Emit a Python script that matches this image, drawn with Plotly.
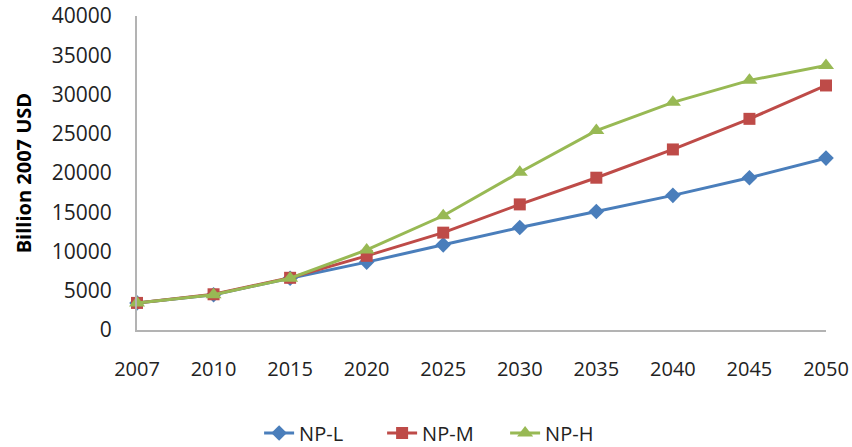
import plotly.graph_objects as go

years = ["2007", "2010", "2015", "2020", "2025", "2030", "2035", "2040", "2045", "2050"]
np_l = [3450, 4500, 6600, 8650, 10850, 13050, 15100, 17150, 19400, 21900]
np_m = [3450, 4550, 6650, 9450, 12400, 16000, 19400, 23000, 26900, 31150]
np_h = [3450, 4500, 6600, 10200, 14550, 20100, 25400, 29000, 31800, 33700]
y_ticks = [0, 5000, 10000, 15000, 20000, 25000, 30000, 35000, 40000]
y_tick_labels = [str(v) for v in y_ticks]

fig = go.Figure()
specs = [("NP-L", np_l, "#4A7EBB", "diamond", 12),
         ("NP-M", np_m, "#BE4B48", "square", 12),
         ("NP-H", np_h, "#98B954", "triangle-up", 14)]
for name, vals, col, sym, sz in specs:
    fig.add_trace(go.Scatter(x=years, y=vals, name=name, mode="lines+markers",
                             line=dict(color=col, width=3),
                             marker=dict(symbol=sym, size=sz, color=col),
                             cliponaxis=False))

font = "Open Sans, Liberation Sans, sans-serif"
fig.update_layout(
    width=852, height=447,
    margin=dict(l=137, r=26, t=16, b=117, autoexpand=False),
    plot_bgcolor="white", paper_bgcolor="white",
    showlegend=True,
    legend=dict(orientation="h", x=0.445, xanchor="center", y=-0.328, yanchor="middle",
                font=dict(family=font, size=20, color="#222"),
                entrywidth=78, entrywidthmode="pixels"),
    xaxis=dict(type="category", range=[0, 9], showgrid=False, showline=True,
               linecolor="#B3B3B3", linewidth=2, ticks="outside", ticklen=20,
               tickcolor="rgba(0,0,0,0)", tickfont=dict(family=font, size=20, color="#222"),
               zeroline=False, automargin=False),
    yaxis=dict(range=[0, 40000], tickvals=y_ticks, ticktext=y_tick_labels, showgrid=False,
               showline=True, linecolor="#B3B3B3", linewidth=2, ticks="outside", ticklen=19,
               tickcolor="rgba(0,0,0,0)", tickfont=dict(family=font, size=21, color="#222"),
               zeroline=False, automargin=False),
    annotations=[dict(text="<b>Billion 2007 USD</b>", textangle=-90, xref="paper", yref="paper",
                      x=-0.165, y=0.5, xanchor="center", yanchor="middle", showarrow=False,
                      font=dict(family=font, size=20, color="#000"))],
)
fig.write_html("out.html", config={"displayModeBar": False},
               post_script="document.body.style.margin='0';")
